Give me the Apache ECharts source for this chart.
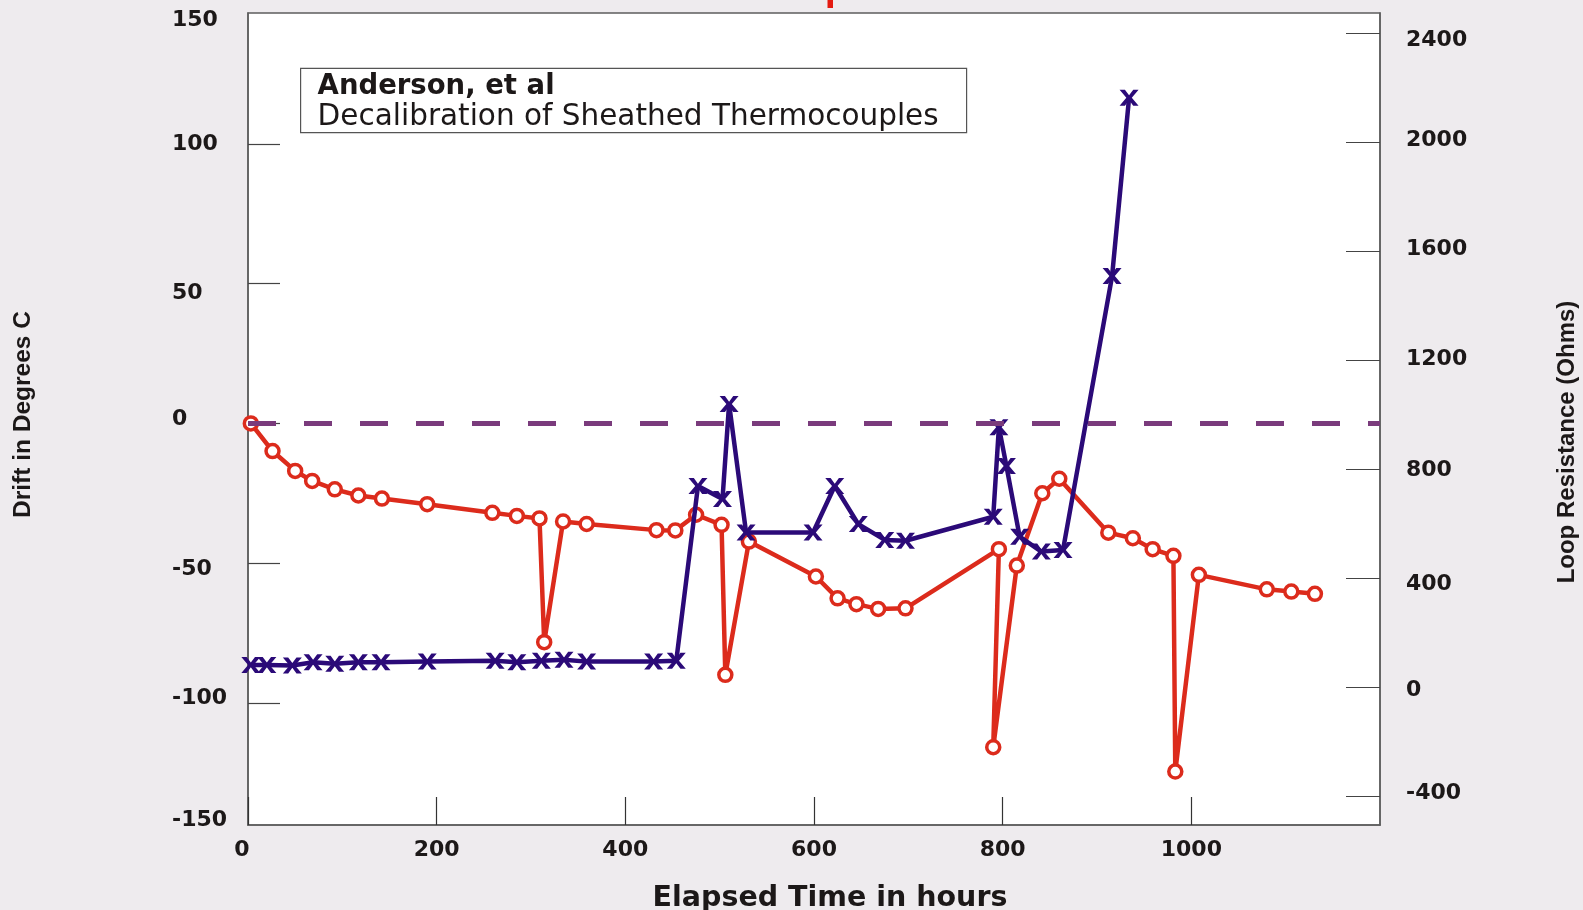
<!DOCTYPE html>
<html>
<head>
<meta charset="utf-8">
<script src="https://cdn.jsdelivr.net/npm/echarts@6/dist/echarts.min.js"></script>
<style>
  html, body { margin: 0; padding: 0; background: #eeebee; }
  #chart { width: 1583px; height: 910px; }
</style>
</head>
<body>
<div id="chart"></div>
<script>
// ---- Data ----
// Drift (left axis, degrees C) vs elapsed time
var hoursDrift = [3, 26, 50, 68, 92, 117, 142, 190, 259, 285,
                  309, 314, 334, 359, 433, 453, 475, 502, 506, 531,
                  602, 625, 645, 668, 697, 796, 790, 815, 842, 860,
                  912, 938, 959, 981, 983, 1008, 1080, 1106, 1131];
var driftValues = [0, -9.9, -17.0, -20.6, -23.6, -25.8, -26.9, -28.9, -32.0, -33.1,
                   -34.0, -78.3, -35.1, -36.0, -38.2, -38.3, -32.7, -36.3, -90.0, -42.3,
                   -54.8, -62.6, -64.7, -66.4, -66.2, -45.0, -115.9, -50.9, -25.0, -19.8,
                   -39.1, -41.1, -45.0, -47.4, -124.6, -54.2, -59.4, -60.2, -61.0];
// Loop resistance (right axis, ohms) vs elapsed time
var hoursResistance = [3, 20, 47, 69, 92, 117, 141, 190, 262, 285,
                       311, 335, 359, 430, 454, 477, 503, 510, 528, 599,
                       622, 647, 675, 697, 790, 796, 804, 818, 841, 864,
                       916, 934];
var resistanceValues = [82, 82, 80, 92, 86, 92, 92, 94, 97, 92,
                        97, 101, 94, 94, 97, 739, 691, 1040, 568, 568,
                        739, 599, 541, 538, 626, 955, 812, 553, 498, 504,
                        1510, 2165];
// Axis ranges and tick labels as drawn in the reference
var leftRange = [-143.74, 146.89];      // plot frame bottom / top (labelled -150 / 150)
var leftTicks = [-100, -50, 0, 50, 100];
var leftEndLabels = ['-150', '150'];
var rightRange = [-506, 2476];
var rightTicks = [-400, 0, 400, 800, 1200, 1600, 2000, 2400];
var xTicks = [0, 200, 400, 600, 800, 1000];
var zeroLine = [0];

var titleLine1 = 'Anderson, et al';
var titleLine2 = 'Decalibration of Sheathed Thermocouples';

function pairs(xs, ys) {
  var out = [];
  for (var i = 0; i < xs.length; i++) out.push([xs[i], ys[i]]);
  return out;
}

var RED = '#dc2b1c';
var BLUE = '#2b0a78';
var PURPLE = '#7a3b7c';
var AXIS = '#5e5e5e';
var TXT = '#1c1818';
var FONT = { fontFamily: 'DejaVu Sans', fontWeight: 'bold', fontSize: 22, color: TXT };
var xSymbol = 'path://M0,0 L4.5,0 L8,4.6 L11.5,0 L16,0 L10.3,6.5 L16,13 L11.5,13 L8,8.4 L4.5,13 L0,13 L5.7,6.5 Z';

// small per-label nudges (px, + = down) so labels sit where the reference prints them
var leftNudge = { top: 7, '100': 0, '50': 10, '0': -4, '-50': 6, '-100': -5, bot: -5 };
var rightNudge = { '2400': 7, '2000': -2, '1600': -2, '1200': -1, '800': 1, '400': 6, '0': 3, '-400': -3 };

function richFor(nudges) {
  var rich = {};
  Object.keys(nudges).forEach(function (k, i) {
    var off = nudges[k];
    var pad = off >= 0 ? [2 * off, 0, 0, 0] : [0, 0, -2 * off, 0];
    rich['n' + i] = Object.assign({}, FONT, { padding: pad });
  });
  return rich;
}
function tagFor(nudges, key, text) {
  var keys = Object.keys(nudges);
  var i = keys.indexOf(key);
  return i < 0 ? text : '{n' + i + '|' + text + '}';
}

var chart = echarts.init(document.getElementById('chart'), null, { renderer: 'canvas' });

var option = {
  animation: false,
  backgroundColor: '#eeebee',
  grid: {
    left: 248, top: 13, right: 203, bottom: 85,
    outerBoundsMode: 'none', containLabel: false,
    show: true, backgroundColor: '#ffffff', borderColor: AXIS, borderWidth: 1.5
  },
  xAxis: {
    type: 'value', min: 0, max: 1200,
    name: 'Elapsed Time in hours', nameLocation: 'middle', nameGap: 59,
    nameTextStyle: { fontFamily: 'DejaVu Sans', fontWeight: 'bold', fontSize: 28.5, color: TXT, padding: [0, 0, 0, 32] },
    axisLine: { show: true, onZero: false, lineStyle: { color: AXIS, width: 1.5 } },
    axisTick: { show: true, inside: true, length: 28, customValues: xTicks, lineStyle: { color: '#333', width: 1.2 } },
    axisLabel: Object.assign({}, FONT, {
      margin: 14, customValues: xTicks,
      formatter: function (v) { return v === 0 ? '{z|0}' : String(v); },
      rich: { z: Object.assign({}, FONT, { padding: [0, 12, 0, 0] }) }
    }),
    splitLine: { show: false }
  },
  yAxis: [
    {
      type: 'value', position: 'left', min: leftRange[0], max: leftRange[1],
      name: 'Drift in Degrees C', nameLocation: 'middle', nameGap: 212, nameRotate: 90,
      nameTextStyle: { fontFamily: 'Liberation Sans', fontWeight: 'bold', fontSize: 24.5, color: TXT, padding: [0, 0, 0, 9] },
      axisLine: { show: true, onZero: false, lineStyle: { color: AXIS, width: 1.5 } },
      axisTick: { show: true, inside: true, length: 32, customValues: leftTicks, lineStyle: { color: '#444', width: 1.2 } },
      axisLabel: Object.assign({}, FONT, {
        margin: 76, align: 'left',
        customValues: [leftRange[0]].concat(leftTicks, [leftRange[1]]),
        formatter: function (v) {
          if (v === leftRange[1]) return tagFor(leftNudge, 'top', leftEndLabels[1]);
          if (v === leftRange[0]) return tagFor(leftNudge, 'bot', leftEndLabels[0]);
          return tagFor(leftNudge, String(v), String(v));
        },
        rich: richFor(leftNudge)
      }),
      splitLine: { show: false }
    },
    {
      type: 'value', position: 'right', min: rightRange[0], max: rightRange[1],
      name: 'Loop Resistance (Ohms)', nameLocation: 'middle', nameGap: 175, nameRotate: 90,
      nameTextStyle: { fontFamily: 'Liberation Sans', fontWeight: 'bold', fontSize: 24, color: TXT, padding: [0, 46, 0, 0] },
      axisLine: { show: true, onZero: false, lineStyle: { color: AXIS, width: 1.5 } },
      axisTick: { show: true, inside: true, length: 34, customValues: rightTicks, lineStyle: { color: '#444', width: 1.2 } },
      axisLabel: Object.assign({}, FONT, {
        margin: 26, align: 'left', customValues: rightTicks,
        formatter: function (v) { return tagFor(rightNudge, String(v), String(v)); },
        rich: richFor(rightNudge)
      }),
      splitLine: { show: false }
    }
  ],
  series: [
    {
      name: 'zero', type: 'line', yAxisIndex: 0, z: 1,
      data: [],
      markLine: {
        silent: true, symbol: ['none', 'none'], label: { show: false },
        lineStyle: { color: PURPLE, width: 5, type: [28, 28], dashOffset: 0 },
        data: zeroLine.map(function (v) { return { yAxis: v }; })
      }
    },
    {
      name: 'Drift', type: 'line', yAxisIndex: 0, z: 3,
      data: pairs(hoursDrift, driftValues),
      showAllSymbol: true,
      symbol: 'circle', symbolSize: 13,
      lineStyle: { color: RED, width: 4.5 },
      itemStyle: { color: '#ffffff', borderColor: RED, borderWidth: 3.5 }
    },
    {
      name: 'Loop Resistance', type: 'line', yAxisIndex: 1, z: 4,
      data: pairs(hoursResistance, resistanceValues),
      showAllSymbol: true,
      symbol: xSymbol, symbolSize: [19, 16], symbolKeepAspect: false,
      lineStyle: { color: BLUE, width: 4.5 },
      itemStyle: { color: BLUE, borderWidth: 0 }
    }
  ],
  graphic: [
    { type: 'rect', shape: { x: 827.5, y: 0, width: 5.5, height: 8 }, style: { fill: '#e41a10' }, silent: true },
    {
      type: 'group', left: 300, top: 67.7, z: 10,
      children: [
        { type: 'rect', shape: { x: 0, y: 0, width: 666, height: 64.3 }, style: { fill: '#ffffff', stroke: '#555', lineWidth: 1.2 } },
        { type: 'text', x: 17, y: 5, style: { text: titleLine1, fontFamily: 'DejaVu Sans', fontWeight: 'bold', fontSize: 27.5, fill: TXT } },
        { type: 'text', x: 17, y: 34, style: { text: titleLine2, fontFamily: 'DejaVu Sans', fontSize: 29.5, fill: TXT } }
      ]
    }
  ]
};
chart.setOption(option);
</script>
</body>
</html>
